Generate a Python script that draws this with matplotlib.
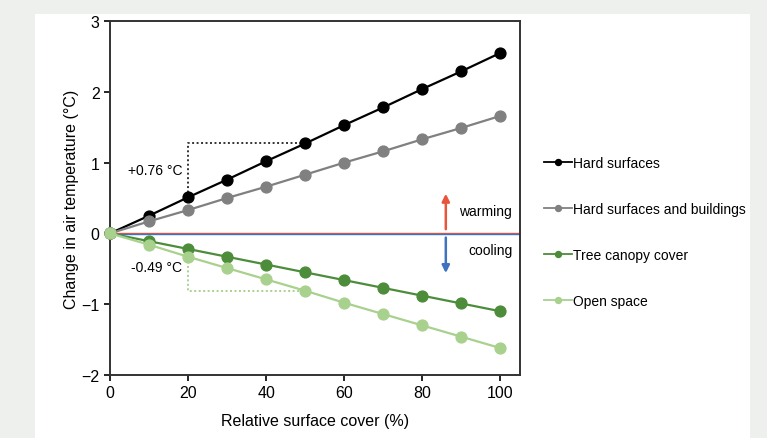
import matplotlib.pyplot as plt
from matplotlib.patches import Rectangle

plt.rcParams['font.family'] = ['Liberation Sans', 'DejaVu Sans']

cover = [0, 10, 20, 30, 40, 50, 60, 70, 80, 90, 100]
hard = [0, 0.25, 0.51, 0.76, 1.02, 1.27, 1.53, 1.78, 2.04, 2.29, 2.55]
hard_bld = [0, 0.17, 0.33, 0.50, 0.66, 0.83, 1.00, 1.16, 1.33, 1.49, 1.66]
tree = [0, -0.11, -0.22, -0.33, -0.44, -0.55, -0.66, -0.77, -0.88, -0.99, -1.10]
open_space = [0, -0.16, -0.33, -0.49, -0.65, -0.81, -0.98, -1.14, -1.30, -1.46, -1.62]

series = [
    ('Hard surfaces', hard, '#000000'),
    ('Hard surfaces and buildings', hard_bld, '#808080'),
    ('Tree canopy cover', tree, '#4c8c3a'),
    ('Open space', open_space, '#a9d18e'),
]

fig = plt.figure(figsize=(7.67, 4.39), dpi=100, facecolor='#eef0ee')
fig.patches.append(Rectangle((35 / 767, 0), (750 - 35) / 767, 1 - 15 / 439,
                             transform=fig.transFigure, facecolor='white',
                             edgecolor='none', zorder=-5))
ax = fig.add_axes([110 / 767, 1 - 376 / 439, (520 - 110) / 767, (376 - 22) / 439])

# zero lines
ax.axhline(0.012, color='#e8553a', lw=1.0, zorder=1)
ax.axhline(-0.012, color='#3f72c0', lw=1.0, zorder=1)

# dotted annotations
ax.plot([20, 20, 50], [hard[2], hard[5], hard[5]], ls=(0, (1, 1.3)), color='#333333', lw=1.4)
ax.plot([20, 20, 50], [open_space[2], open_space[5], open_space[5]], ls=(0, (1, 1.3)),
        color='#a9d18e', lw=1.4)
ax.text(18.5, 0.9, '+0.76 °C', ha='right', va='center', fontsize=10)
ax.text(18.5, -0.48, '-0.49 °C', ha='right', va='center', fontsize=10)

for name, vals, col in series:
    ax.plot(cover, vals, color=col, lw=1.6, marker='o', markersize=7.8,
            label=name, clip_on=False, zorder=3)

# warming / cooling arrows
ax.annotate('', xy=(86, 0.6), xytext=(86, 0.02),
            arrowprops=dict(arrowstyle='-|>', color='#e8553a', lw=1.8, mutation_scale=11))
ax.annotate('', xy=(86, -0.6), xytext=(86, -0.02),
            arrowprops=dict(arrowstyle='-|>', color='#3f72c0', lw=1.8, mutation_scale=11))
ax.text(103, 0.31, 'warming', ha='right', va='center', fontsize=10)
ax.text(103, -0.23, 'cooling', ha='right', va='center', fontsize=10)

ax.set_xlim(0, 105)
ax.set_ylim(-2, 3)
ax.set_xticks([0, 20, 40, 60, 80, 100])
ax.set_yticks([-2, -1, 0, 1, 2, 3])
ax.tick_params(labelsize=11.5, direction='out', length=4, width=1.2)
for s in ax.spines.values():
    s.set_linewidth(1.4)
    s.set_color('#333333')
ax.set_xlabel('Relative surface cover (%)', fontsize=11.5, labelpad=9)
ax.set_ylabel('Change in air temperature (°C)', fontsize=11.5, labelpad=2)

leg = ax.legend(loc='center left', bbox_to_anchor=(1.028, 0.405), frameon=False,
                fontsize=10, handlelength=2.0, handletextpad=0.1, labelspacing=2.3,
                markerscale=0.55)
for h in leg.legend_handles:
    h.set_linewidth(1.3)

fig.savefig('out.png', dpi=100, facecolor=fig.get_facecolor())
